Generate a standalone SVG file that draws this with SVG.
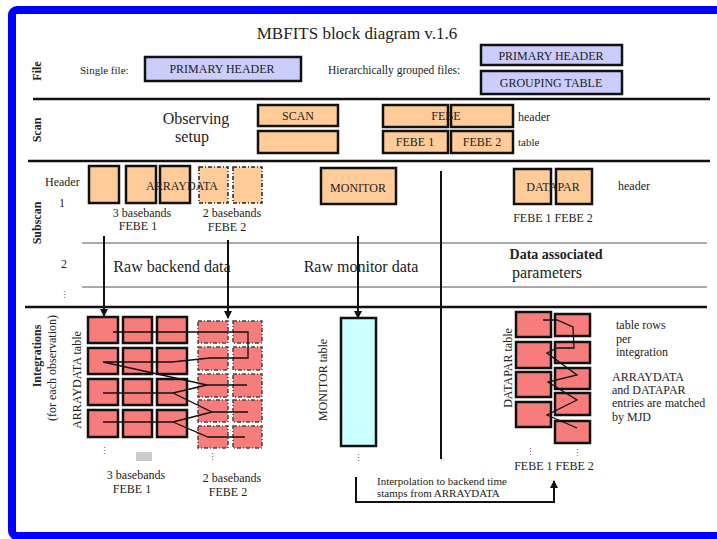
<svg xmlns="http://www.w3.org/2000/svg" width="717" height="539" viewBox="0 0 717 539">
<style>
text{font-family:"Liberation Serif","Times New Roman",serif;fill:#222}
.b{fill:#ccccff;stroke:#111;stroke-width:2.5}
.o{fill:#ffcc99;stroke:#111;stroke-width:2.5}
.od{fill:#ffcc99;stroke:#222;stroke-width:1.5;stroke-dasharray:4 2 1 2}
.r{fill:#f77c7c;stroke:#111;stroke-width:2.5}
.rd{fill:#f77c7c;stroke:#444;stroke-width:1.5;stroke-dasharray:4 2 1 2}
.c{fill:#ccffff;stroke:#111;stroke-width:2.5}
.div{stroke:#111;stroke-width:2.5;fill:none}
.thin{stroke:#555;stroke-width:1;fill:none}
.ln{stroke:#111;stroke-width:2;fill:none}
.zz{fill:none;stroke:#111;stroke-width:1.3}
.lab{font-weight:bold;font-size:12px}
.s11{font-size:11px}
.s12{font-size:12px}
.s16{font-size:16px}
.m{text-anchor:middle}
text.dots{font-family:"DejaVu Serif","Liberation Serif",serif;font-size:9px;fill:#555}
</style>
<defs>
<marker id="ah" markerWidth="8" markerHeight="8" refX="7" refY="4" orient="auto" markerUnits="userSpaceOnUse">
<path d="M0,0 L8,4 L0,8 z" fill="#111"/>
</marker>
</defs>
<rect x="0" y="0" width="717" height="539" fill="#fff"/>
<rect x="12" y="10" width="720" height="526" rx="5" fill="none" stroke="#0000ff" stroke-width="8"/>

<text x="357" y="39" font-size="17" class="m">MBFITS block diagram v.1.6</text>

<!-- section labels -->
<g id="section-labels">
<text class="lab m" transform="translate(41,71) rotate(-90)">File</text>
<text class="lab m" transform="translate(41,130) rotate(-90)">Scan</text>
<text class="lab m" transform="translate(41,223) rotate(-90)">Subscan</text>
<text class="lab m" transform="translate(41,356) rotate(-90)">Integrations</text>
<text class="s12 m" transform="translate(56,368) rotate(-90)">(for each observation)</text>
</g>

<!-- dividers -->
<g id="dividers">
<line class="div" x1="33" y1="99" x2="710" y2="99"/>
<line class="div" x1="28" y1="161" x2="710" y2="161"/>
<line class="div" x1="25" y1="307" x2="707" y2="307"/>
<line class="thin" x1="82" y1="243" x2="707" y2="243"/>
<line class="thin" x1="82" y1="287" x2="707" y2="287"/>
<line class="ln" x1="441" y1="171" x2="441" y2="459"/>
</g>

<!-- File row -->
<g id="file-single">
<text x="80" y="74" class="s11">Single file:</text>
<rect class="b" x="145" y="57" width="156" height="24"/>
<text x="222" y="73" class="s12 m">PRIMARY HEADER</text>
</g>
<g id="file-grouped">
<text x="328" y="74" font-size="11.5">Hierarchically grouped files:</text>
<rect class="b" x="481" y="45" width="141" height="20"/>
<text x="551" y="60" class="s12 m">PRIMARY HEADER</text>
<rect class="b" x="481" y="71" width="141" height="23"/>
<text x="551" y="87" class="s12 m">GROUPING TABLE</text>
</g>

<!-- Scan row -->
<g id="observing-setup">
<text x="196" y="124" class="s16 m">Observing</text>
<text x="192" y="142" class="s16 m">setup</text>
</g>
<g id="scan">
<rect class="o" x="258" y="105" width="80" height="21"/>
<text x="298" y="120" class="s12 m">SCAN</text>
<rect class="o" x="258" y="131" width="80" height="22"/>
</g>
<g id="febe">
<rect class="o" x="383" y="105" width="65" height="22"/>
<rect class="o" x="451" y="105" width="62" height="22"/>
<text x="446" y="120" class="s12 m">FEBE</text>
<text x="518" y="121" class="s12">header</text>
<rect class="o" x="383" y="131" width="65" height="22"/>
<text x="415" y="146" class="s12 m">FEBE 1</text>
<rect class="o" x="451" y="131" width="62" height="22"/>
<text x="482" y="146" class="s12 m">FEBE 2</text>
<text x="518" y="146" class="s11">table</text>
</g>

<!-- Subscan -->
<g id="subscan-labels">
<text x="45" y="186" class="s12">Header</text>
<text x="62" y="207" class="s12 m">1</text>
<text x="64" y="268" class="s12 m">2</text>
<text x="64" y="298" class="dots m">⋮</text>
</g>
<g id="arraydata-header">
<rect class="o" x="89" y="166" width="30" height="37"/>
<rect class="o" x="126" y="166" width="30" height="37"/>
<rect class="o" x="160" y="166" width="30" height="37"/>
<rect class="od" x="199" y="167" width="29" height="36"/>
<rect class="od" x="233" y="167" width="29" height="36"/>
<text x="182" y="190" class="s12 m">ARRAYDATA</text>
<text x="142" y="217" class="s12 m">3 basebands</text>
<text x="138" y="230" class="s12 m">FEBE 1</text>
<text x="232" y="217" class="s12 m">2 basebands</text>
<text x="227" y="231" class="s12 m">FEBE 2</text>
</g>
<g id="monitor-header">
<rect class="o" x="321" y="168" width="75" height="36"/>
<text x="358" y="192" class="s12 m">MONITOR</text>
</g>
<g id="datapar-header">
<rect class="o" x="514" y="169" width="37" height="35"/>
<rect class="o" x="556" y="169" width="36" height="35"/>
<text x="553" y="191" class="s12 m">DATAPAR</text>
<text x="618" y="190" class="s12">header</text>
<text x="553" y="222" class="s12 m">FEBE 1  FEBE 2</text>
</g>
<g id="subscan-texts">
<text x="172" y="272" class="s16 m">Raw backend data</text>
<text x="361" y="272" class="s16 m">Raw monitor data</text>
<text x="556" y="259" font-size="14" font-weight="bold" class="m">Data associated</text>
<text x="547" y="278" class="s16 m">parameters</text>
</g>

<!-- Connectors -->
<g id="connectors">
<line class="ln" x1="104" y1="236" x2="104" y2="316" marker-end="url(#ah)"/>
<line class="ln" x1="228" y1="240" x2="228" y2="318" marker-end="url(#ah)"/>
<line class="ln" x1="358" y1="236" x2="358" y2="318" marker-end="url(#ah)"/>
<path class="ln" d="M356,477 V502 H554 V481" marker-end="url(#ah)"/>
</g>

<!-- Integrations: ARRAYDATA table -->
<g id="arraydata-table">
<text class="s12 m" transform="translate(81,380) rotate(-90)">ARRAYDATA table</text>
<rect class="r" x="88" y="317" width="30" height="26"/>
<rect class="r" x="123" y="317" width="29" height="26"/>
<rect class="r" x="157" y="317" width="30" height="26"/>
<rect class="r" x="88" y="348" width="30" height="26"/>
<rect class="r" x="123" y="348" width="29" height="26"/>
<rect class="r" x="157" y="348" width="30" height="26"/>
<rect class="r" x="88" y="379" width="30" height="26"/>
<rect class="r" x="123" y="379" width="29" height="26"/>
<rect class="r" x="157" y="379" width="30" height="26"/>
<rect class="r" x="88" y="410" width="30" height="27"/>
<rect class="r" x="123" y="410" width="29" height="27"/>
<rect class="r" x="157" y="410" width="30" height="27"/>
<rect class="rd" x="198" y="321" width="30" height="22"/>
<rect class="rd" x="233" y="321" width="29" height="22"/>
<rect class="rd" x="198" y="347" width="30" height="23"/>
<rect class="rd" x="233" y="347" width="29" height="23"/>
<rect class="rd" x="198" y="374" width="30" height="23"/>
<rect class="rd" x="233" y="374" width="29" height="23"/>
<rect class="rd" x="198" y="400" width="30" height="22"/>
<rect class="rd" x="233" y="400" width="29" height="22"/>
<rect class="rd" x="198" y="426" width="30" height="22"/>
<rect class="rd" x="233" y="426" width="29" height="22"/>
<path class="zz" d="M113,332 H248 V358 H210 L172,362 H103 L207,385 H247"/>
<path class="zz" d="M103,393 H173 L207,385 M173,393 L212,412 H248 M103,422 H173 L212,412 M173,422 L208,437 H245"/>
<text x="104" y="454" class="dots m">⋮</text>
<rect x="136" y="452" width="16" height="9" fill="#cccccc"/>
<text x="212" y="460" class="dots m">⋮</text>
<text x="136" y="479" class="s12 m">3 basebands</text>
<text x="132" y="493" class="s12 m">FEBE 1</text>
<text x="232" y="482" class="s12 m">2 basebands</text>
<text x="228" y="496" class="s12 m">FEBE 2</text>
</g>

<!-- MONITOR table -->
<g id="monitor-table">
<text class="s12 m" transform="translate(327,380) rotate(-90)">MONITOR table</text>
<rect class="c" x="341" y="318" width="35" height="128"/>
<text x="358" y="461" class="dots m">⋮</text>
</g>
<g id="interpolation-label">
<text x="377" y="485" class="s11">Interpolation to backend time</text>
<text x="377" y="497" class="s11">stamps from ARRAYDATA</text>
</g>

<!-- DATAPAR table -->
<g id="datapar-table">
<text class="s12 m" transform="translate(512,368) rotate(-90)">DATAPAR table</text>
<rect class="r" x="516" y="312" width="35" height="25"/>
<rect class="r" x="516" y="342" width="35" height="26"/>
<rect class="r" x="516" y="372" width="35" height="25"/>
<rect class="r" x="516" y="402" width="35" height="25"/>
<rect class="r" x="555" y="314" width="35" height="22"/>
<rect class="r" x="555" y="342" width="35" height="21"/>
<rect class="r" x="555" y="368" width="35" height="21"/>
<rect class="r" x="555" y="393" width="35" height="22"/>
<rect class="r" x="555" y="421" width="35" height="22"/>
<path class="zz" d="M543,320 H557 L573,327 L574,348 H557 L547,353 L577,375 L548,382 L577,400 L547,415 L577,428"/>
<text x="530" y="455" class="dots m">⋮</text>
<text x="577" y="456" class="dots m">⋮</text>
<text x="554" y="470" class="s12 m">FEBE 1  FEBE 2</text>
</g>
<g id="notes">
<text x="616" y="329" class="s12">table rows</text>
<text x="616" y="343" class="s12">per</text>
<text x="616" y="356" class="s12">integration</text>
<text x="612" y="381" class="s12">ARRAYDATA</text>
<text x="612" y="394" class="s12">and DATAPAR</text>
<text x="612" y="407" class="s12">entries are matched</text>
<text x="612" y="421" class="s12">by MJD</text>
</g>
</svg>
